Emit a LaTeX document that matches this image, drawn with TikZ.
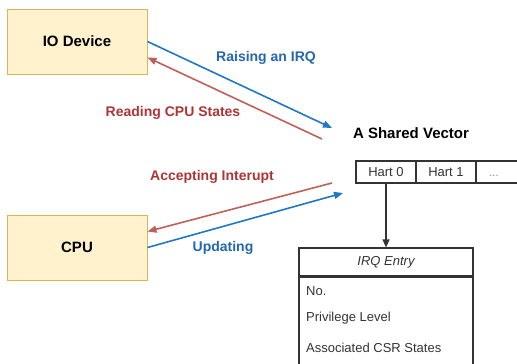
\documentclass[tikz,border=0pt]{standalone}
\usepackage{fontspec}
\setmainfont{Liberation Sans}
\usetikzlibrary{arrows.meta}

\definecolor{boxfill}{HTML}{FFF2CC}
\definecolor{boxline}{HTML}{D6B656}
\definecolor{arrblue}{HTML}{1F78C4}
\definecolor{txtblue}{HTML}{2466B0}
\definecolor{arrred}{HTML}{C0605A}
\definecolor{txtred}{HTML}{AE3535}
\definecolor{tabline}{HTML}{333333}

\tikzset{
  unit/.style={rectangle,draw=boxline,fill=boxfill,line width=1pt,
    minimum width=140pt,minimum height=65pt,
    font=\fontsize{15}{18}\selectfont\bfseries},
  cell/.style={rectangle,draw=tabline,line width=1.2pt,inner sep=0pt,
    minimum width=60pt,minimum height=22pt,text=tabline,
    font=\fontsize{13}{15}\selectfont},
  row/.style={anchor=west,inner sep=0pt,text=tabline,
    font=\fontsize{13}{15}\selectfont},
  bluearrow/.style={draw=arrblue,line width=1.6pt,-{Triangle[length=9pt,width=7pt]}},
  redarrow/.style={draw=arrred,line width=1.6pt,-{Triangle[length=9pt,width=7pt]}},
  bluelabel/.style={text=txtblue,font=\fontsize{14}{17}\selectfont\bfseries},
  redlabel/.style={text=txtred,font=\fontsize{14}{17}\selectfont\bfseries},
}

\begin{document}
\begin{tikzpicture}[x=1pt,y=-1pt]
        \clip (0,0) rectangle (517,364);

        \node[unit] (io)  at ( 77.0, 41.5) {IO Device};
        \node[unit] (cpu) at ( 77.0,247.5) {CPU};

        \node[font=\fontsize{15}{18}\selectfont\bfseries] (vec) at (411.0,133.0) {A Shared Vector};
        \node[cell] (hart0) at (386.0,172.0) {Hart 0};
        \node[cell] (hart1) at (446.0,172.0) {Hart 1};
        \node[cell] (more)  at (506.0,172.0) {};
        \node[text=gray,inner sep=0pt,anchor=base,font=\fontsize{11}{13}\selectfont] (dots) at (494.0,176.0) {...};

        \node[cell,minimum width=174pt,minimum height=28pt,font=\fontsize{13}{15}\selectfont\itshape] (irq) at (386.0,262.0) {IRQ Entry};
        \node[cell,anchor=north,minimum width=174pt,minimum height=110pt] (irqbody) at (irq.south) {};
        \node[row] (no)   at (306.0,291.0) {No.};
        \node[row] (priv) at (306.0,318.0) {Privilege Level};
        \node[row] (csr)  at (306.0,348.0) {Associated CSR States};

        \coordinate (raiseend)  at (332.0,128.0);
        \coordinate (readstart) at (322.0,139.0);
        \coordinate (accstart)  at (332.0,183.0);
        \coordinate (updend)    at (343.0,193.0);

        \draw[bluearrow] (io.east) to (raiseend);
        \draw[redarrow]  (readstart) to ([yshift=-16pt]io.east);
        \draw[redarrow]  (accstart) to ([yshift=16pt]cpu.east);
        \draw[bluearrow] (cpu.east) to (updend);
        \draw[-{Triangle[length=8pt,width=7pt]},draw=tabline,line width=1.2pt] (hart0.south) to (irq.north);

        \node[bluelabel] (raise) at (266.0, 58.0) {Raising an IRQ};
        \node[redlabel]  (read)  at (173.0,113.0) {Reading CPU States};
        \node[redlabel]  (acc)   at (212.0,177.0) {Accepting Interupt};
        \node[bluelabel] (upd)   at (223.0,248.0) {Updating};
\end{tikzpicture}
\end{document}
